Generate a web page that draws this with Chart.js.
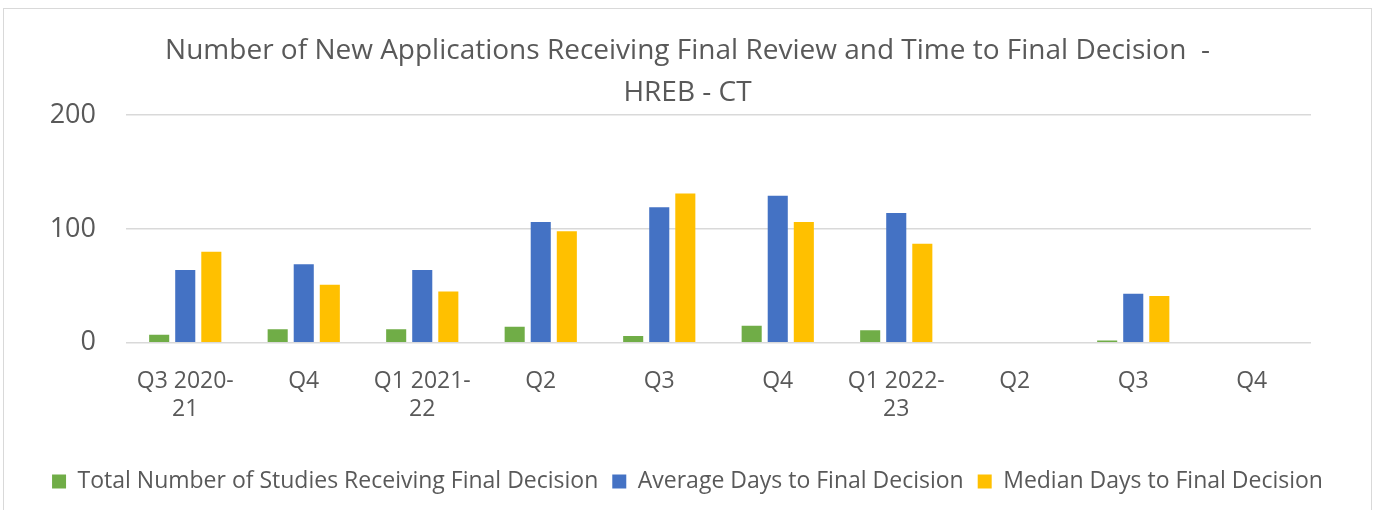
<!DOCTYPE html>
<html>
<head>
<meta charset="utf-8">
<script src="https://cdn.jsdelivr.net/npm/chart.js@4/dist/chart.umd.min.js"></script>
<style>
    html, body { margin: 0; padding: 0; background: #fff; overflow: hidden; }
    .chart-box {
        position: absolute;
        left: 3px;
        top: 8px;
        width: 1367px;
        height: 520px;
        border: 1px solid #d9d9d9;
        background: #fff;
    }
    .chart-box canvas { display: block; }
</style>
</head>
<body>
<div class="chart-box">
    <canvas id="hrebChart" width="1367" height="501"></canvas>
</div>
<script>
// Data
const quarters = [
    ["Q3 2020-", "21"], "Q4", ["Q1 2021-", "22"], "Q2", "Q3", "Q4",
    ["Q1 2022-", "23"], "Q2", "Q3", "Q4"
];
const totalStudies = [7, 12, 12, 14, 6, 15, 11, null, 2, null];
const averageDays  = [64, 69, 64, 106, 119, 129, 114, null, 43, null];
const medianDays   = [80, 51, 45, 98, 131, 106, 87, null, 41, null];
const yTicks = [0, 100, 200];

const textColor = "#595959";
const fontFamily = "'Open Sans', 'Noto Sans', sans-serif";

const ctx = document.getElementById("hrebChart").getContext("2d");

new Chart(ctx, {
    type: "bar",
    data: {
        labels: quarters,
        datasets: [
            { label: "Total Number of Studies Receiving Final Decision", data: totalStudies, backgroundColor: "#70AD47" },
            { label: "Average Days to Final Decision", data: averageDays, backgroundColor: "#4472C4" },
            { label: "Median Days to Final Decision", data: medianDays, backgroundColor: "#FFC000" }
        ]
    },
    options: {
        responsive: false,
        animation: false,
        datasets: {
            bar: { categoryPercentage: 0.66, barPercentage: 0.77 }
        },
        layout: { padding: { left: 18, right: 18, top: 0, bottom: 7 } },
        plugins: {
            title: {
                display: true,
                text: ["Number of New Applications Receiving Final Review and Time to Final Decision  -", "HREB - CT"],
                color: textColor,
                font: { family: fontFamily, size: 28, weight: "normal", lineHeight: 1.5 },
                padding: { top: 21, bottom: 1 }
            },
            legend: {
                position: "bottom",
                labels: {
                    color: textColor,
                    font: { family: fontFamily, size: 23 },
                    boxWidth: 14,
                    boxHeight: 14,
                    padding: 14
                }
            },
            tooltip: { enabled: false }
        },
        scales: {
            x: {
                grid: { display: false, drawTicks: false },
                border: { display: false },
                ticks: {
                    color: textColor,
                    font: { family: fontFamily, size: 23, lineHeight: 1.2 },
                    padding: 25,
                    maxRotation: 0,
                    autoSkip: false
                },
                afterFit: (scale) => { scale.height += 8; }
            },
            y: {
                min: 0,
                max: 200,
                grid: { color: "#d9d9d9", lineWidth: 1.5, drawTicks: false },
                border: { display: false },
                afterBuildTicks: (scale) => { scale.ticks = yTicks.map(v => ({ value: v })); },
                ticks: {
                    color: textColor,
                    font: { family: fontFamily, size: 27 },
                    padding: 30
                },
                afterFit: (scale) => { scale.width = 104; }
            },
            // empty right-hand axis, only keeps the plot clear of the right edge
            yRight: {
                position: "right",
                display: true,
                grid: { display: false, drawTicks: false },
                border: { display: false },
                ticks: { display: false },
                afterFit: (scale) => { scale.width = 42; }
            }
        }
    }
});
</script>
</body>
</html>
